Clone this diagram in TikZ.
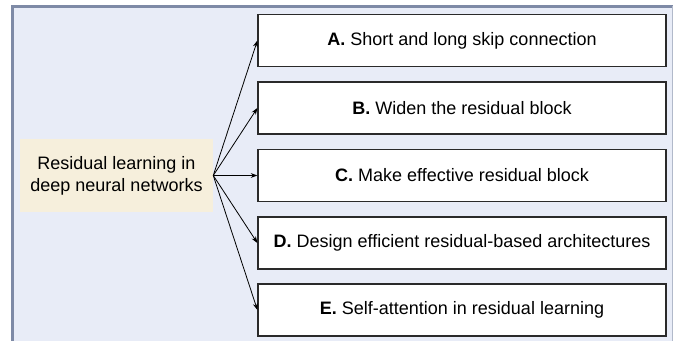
\documentclass[tikz,border=0pt]{standalone}
\usepackage{fontspec}
\setmainfont{Liberation Sans}
\usetikzlibrary{arrows.meta}
\definecolor{bgblue}{HTML}{E8ECF7}
\definecolor{frame}{HTML}{7E8AA6}
\definecolor{beige}{HTML}{F6EFDC}
\definecolor{boxline}{HTML}{2A2A2A}
\begin{document}
\begin{tikzpicture}[x=0.75pt,y=-0.75pt,
  topic/.style={draw=boxline,line width=0.9pt,fill=white,minimum width=408*0.75pt,minimum height=52*0.75pt,inner sep=0pt,font=\fontsize{13.5pt}{16pt}\selectfont},
  root/.style={fill=beige,minimum width=193*0.75pt,minimum height=73*0.75pt,inner sep=0pt,align=center,font=\fontsize{13.5pt}{16.5pt}\selectfont},
  link/.style={line width=0.6pt,-{Stealth[length=5pt,width=3.6pt]}}]
\useasboundingbox (0,0) rectangle (673,341);
\fill[bgblue] (12.5,6.5) rectangle (673,341);
\draw[frame,line width=1.6pt] (12.5,341) -- (12.5,6.5) -- (673,6.5);
\draw[frame!60,line width=0.6pt] (672,6.5) -- (672,341);
\node[root] (r) at (116.5,175.5) {Residual learning in\\deep neural networks};
\node[topic] (a) at (462,40.5) {\textbf{A.} Short and long skip connection};
\node[topic] (b) at (462,108) {\textbf{B.} Widen the residual block};
\node[topic] (c) at (462,175.5) {\textbf{C.} Make effective residual block};
\node[topic] (d) at (462,243) {\textbf{D.} Design efficient residual-based architectures};
\node[topic] (e) at (462,310) {\textbf{E.} Self-attention in residual learning};
\foreach \t in {a,b,c,d,e} \draw[link] (r.east) -- (\t.west);
\end{tikzpicture}
\end{document}
